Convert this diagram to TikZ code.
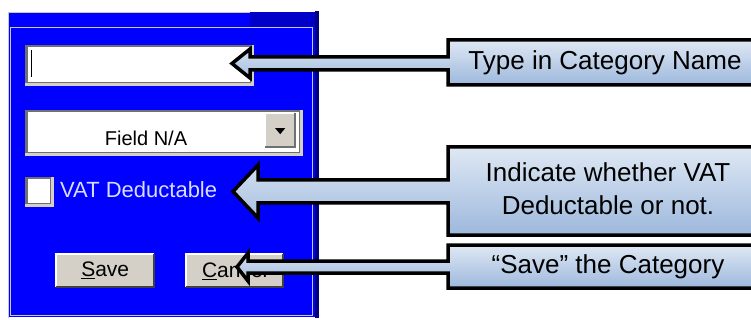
\documentclass[tikz,border=0pt]{standalone}
\usepackage{fontspec}
\setmainfont{Liberation Sans}

\definecolor{dlgblue}{HTML}{0000FF}
\definecolor{dlgdark}{HTML}{0000C8}
\definecolor{dlgnavy}{HTML}{000080}
\definecolor{framegray}{HTML}{C8C8D0}
\definecolor{btngray}{HTML}{D4D0C8}
\definecolor{shadowgray}{HTML}{707070}
\definecolor{labelblue}{HTML}{D8DCFF}
\definecolor{notetop}{HTML}{DFE8F4}
\definecolor{notebottom}{HTML}{9DB8DC}

\tikzset{
  sunken/.style={fill=white, draw=shadowgray, line width=2.5pt, inner sep=0pt},
  raised/.style={fill=btngray, draw=none, inner sep=0pt},
  callout/.style={draw=black, line width=3.5pt, line join=miter, top color=notetop, bottom color=notebottom},
  notetext/.style={font=\fontsize{26}{33}\selectfont, align=center},
  dlgtext/.style={font=\fontsize{21}{24}\selectfont, inner sep=0pt},
}

\begin{document}
\begin{tikzpicture}[x=1pt, y=-1pt]
\clip (0,0) rectangle (751,320);
\fill[white] (0,0) rectangle (751,320);

\fill[dlgblue] (8,12) rectangle (315,317);
\fill[dlgdark] (250,12) rectangle (315,26);
\fill[dlgnavy] (315,11) rectangle (319,318);
\draw[framegray, line width=1.5pt] (10.5,27.5) rectangle (312.5,315.5);
\draw[framegray, line width=1pt] (8.5,318) -- (8.5,12.5) -- (250,12.5);

\node[sunken, minimum width=225pt, minimum height=37pt, anchor=north west] (namefield) at (25,45) {};
\draw[btngray, line width=2.5pt] (namefield.south west) -| (namefield.north east);
\draw[line width=1pt] (31,50) -- (31,77);

\node[sunken, minimum width=274pt, minimum height=42pt, anchor=north west] (fieldcombo) at (25,110) {};
\draw[btngray, line width=2.5pt] (fieldcombo.south west) -| (fieldcombo.north east);
\node[raised, minimum width=30pt, minimum height=34pt, anchor=north west] (dropbtn) at (265,113) {};
\draw[white, line width=1.5pt] (dropbtn.south west) |- (dropbtn.north east);
\draw[shadowgray, line width=2pt] (dropbtn.south west) -| (dropbtn.north east);
\fill (dropbtn.center) ++(-5,-2) -- ++(10,0) -- ++(-5,6) -- cycle;
\node[font=\fontsize{20}{24}\selectfont, inner sep=0pt] (fieldtext) at (146,138) {Field N/A};

\node[sunken, minimum width=25pt, minimum height=26pt, anchor=north west] (vatbox) at (25,177) {};
\draw[btngray, line width=2.5pt] (vatbox.south west) -| (vatbox.north east);
\node[dlgtext, text=labelblue, font=\fontsize{22}{24}\selectfont, anchor=west] (vatlabel) at (60,190) {VAT Deductable};

\node[raised, dlgtext, minimum width=98pt, minimum height=33pt, anchor=north west] (savebtn) at (56,254) {\underline{S}ave};
\draw[white, line width=1.5pt] (savebtn.south west) |- (savebtn.north east);
\draw[black!75, line width=2pt] (savebtn.south west) -| (savebtn.north east);
\node[raised, dlgtext, minimum width=97pt, minimum height=33pt, anchor=north west] (cancelbtn) at (186,254) {\underline{C}ancel};
\draw[white, line width=1.5pt] (cancelbtn.south west) |- (cancelbtn.north east);
\draw[black!75, line width=2pt] (cancelbtn.south west) -| (cancelbtn.north east);

\coordinate (tipname) at (232,63.5);
\coordinate (tipvat) at (233,191.5);
\coordinate (tipsave) at (237,267);

\draw[callout] (tipname) -- (250,49) -- (250,57) -- (448,57) -- (448,40) -- (770,40) -- (770,85) -- (448,85) -- (448,70) -- (250,70) -- (250,78) -- cycle;
\node[notetext] (notename) at (605,63) {Type in Category Name};

\draw[callout] (tipvat) -- (258,165) -- (258,180) -- (448,180) -- (448,147) -- (770,147) -- (770,235) -- (448,235) -- (448,203) -- (258,203) -- (258,218) -- cycle;
\node[notetext] (notevat) at (608,189) {Indicate whether VAT\\Deductable or not.};

\draw[callout] (tipsave) -- (248,253) -- (248,261) -- (448,261) -- (448,245) -- (770,245) -- (770,288) -- (448,288) -- (448,273) -- (248,273) -- (248,281) -- cycle;
\node[notetext] (notesave) at (608,267) {“Save” the Category};
\end{tikzpicture}
\end{document}
